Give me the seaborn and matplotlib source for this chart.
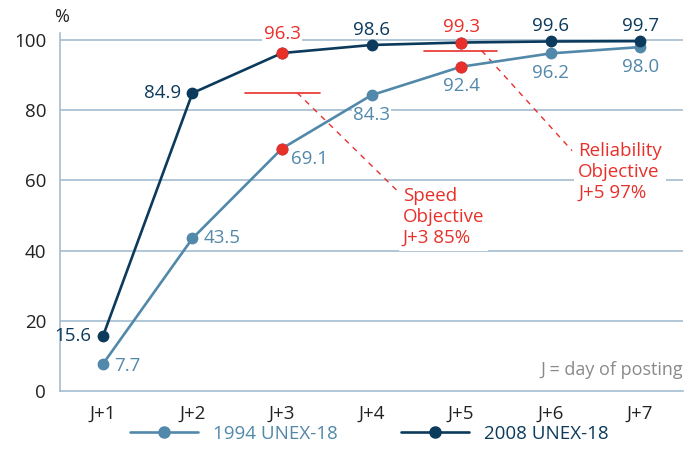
import pandas as pd
import seaborn as sns
import matplotlib.pyplot as plt
from matplotlib.lines import Line2D

# data
days = ["J+1", "J+2", "J+3", "J+4", "J+5", "J+6", "J+7"]
pct_1994 = [7.7, 43.5, 69.1, 84.3, 92.4, 96.2, 98.0]
pct_2008 = [15.6, 84.9, 96.3, 98.6, 99.3, 99.6, 99.7]
objective_days = ["J+3", "J+5"]
objective_targets = [85, 97]
objective_labels = ["Speed\nObjective\nJ+3 85%", "Reliability\nObjective\nJ+5 97%"]

c94 = "#5288aa"
c08 = "#0b3a5c"
red = "#e8302a"
grid_c = "#a3bccf"
text_c = "#222222"

df = pd.DataFrame({
    "day": days * 2,
    "pos": list(range(len(days))) * 2,
    "pct": pct_1994 + pct_2008,
    "series": ["1994 UNEX-18"] * len(days) + ["2008 UNEX-18"] * len(days),
})

sns.set_style("white")
plt.rcParams["font.family"] = ["Open Sans", "DejaVu Sans"]

fig = plt.figure(figsize=(6.97, 4.59), dpi=100)
ax = fig.add_axes([0.086, 0.148, 0.894, 0.78])

for y in [20, 40, 60, 80, 100]:
    ax.axhline(y, color=grid_c, lw=1.2, zorder=0)

sns.lineplot(data=df, x="pos", y="pct", hue="series",
             palette={"1994 UNEX-18": c94, "2008 UNEX-18": c08},
             marker="o", markersize=8.5, markeredgewidth=0, linewidth=1.9,
             legend=False, ax=ax, zorder=3)

# red points on objective days
for d in objective_days:
    i = days.index(d)
    ax.scatter([i, i], [pct_1994[i], pct_2008[i]], s=75, color=red, zorder=5, linewidths=0)

# data labels
fs = 13.5
bb = dict(facecolor="white", edgecolor="none", pad=1)
for i, (a, b) in enumerate(zip(pct_1994, pct_2008)):
    cb = red if days[i] in objective_days else c08
    if i == 0:
        ax.text(i - 0.13, b, f"{b:.1f}", color=c08, fontsize=fs, ha="right", va="center")
        ax.text(i + 0.12, a - 0.5, f"{a:.1f}", color=c94, fontsize=fs, ha="left", va="center")
    elif i == 1:
        ax.text(i - 0.13, b, f"{b:.1f}", color=c08, fontsize=fs, ha="right", va="center")
        ax.text(i + 0.12, a, f"{a:.1f}", color=c94, fontsize=fs, ha="left", va="center")
    elif i == 2:
        ax.text(i, b + 3.0, f"{b:.1f}", color=cb, fontsize=fs, ha="center", va="bottom", bbox=bb, zorder=4)
        ax.text(i + 0.1, a - 0.5, f"{a:.1f}", color=c94, fontsize=fs, ha="left", va="top")
    else:
        ax.text(i, b + 1.8, f"{b:.1f}", color=cb, fontsize=fs, ha="center", va="bottom", zorder=4)
        ax.text(i, a - 3.0, f"{a:.1f}", color=c94, fontsize=fs, ha="center", va="top", bbox=bb, zorder=2)

# objective markers and callouts
spans = [(1.59, 2.42), (3.59, 4.40)]
leaders = [((2.17, 85), (3.31, 56.5)), ((4.23, 97), (5.24, 68.5))]
text_at = [(3.35, 58.0), (5.31, 71.0)]
for (x0, x1), t, ((lx0, ly0), (lx1, ly1)), (tx, ty), lab in zip(spans, objective_targets, leaders, text_at, objective_labels):
    ax.plot([x0, x1], [t, t], color=red, lw=1.2, zorder=2)
    ax.plot([lx0, lx1], [ly0, ly1], color=red, lw=1, ls=(0, (4, 4)), zorder=2)
    ax.text(tx, ty, lab, color=red, fontsize=fs, ha="left", va="top",
            linespacing=1.2, bbox=dict(facecolor="white", edgecolor="none", pad=3), zorder=3)

ax.text(6.48, 6.0, "J = day of posting", color="#8a8a8a", fontsize=13, ha="right", va="center")

ax.set_xlim(-0.48, 6.48)
ax.set_ylim(0, 102)
ax.set_xticks(range(len(days)))
ax.set_xticklabels(days)
ax.set_yticks([0, 20, 40, 60, 80, 100])
ax.set_xlabel("")
ax.set_ylabel("")
ax.text(-0.46, 104, "%", fontsize=13, color=text_c, ha="center", va="bottom")

for s in ["top", "right"]:
    ax.spines[s].set_visible(False)
for s in ["left", "bottom"]:
    ax.spines[s].set_color(grid_c)
    ax.spines[s].set_linewidth(1.2)
ax.tick_params(axis="both", colors=grid_c, labelcolor=text_c, labelsize=13.5, width=1.2, length=6)
ax.tick_params(axis="x", direction="inout", length=10, pad=5)
ax.tick_params(axis="y", pad=4)

handles = [
    Line2D([], [], color=c94, marker="o", markersize=8, lw=1.9),
    Line2D([], [], color=c08, marker="o", markersize=8, lw=1.9),
]
leg = fig.legend(handles, ["1994 UNEX-18", "2008 UNEX-18"], loc="center",
                 bbox_to_anchor=(0.53, 0.055), ncol=2, frameon=False,
                 fontsize=13.5, handlelength=3.6, columnspacing=3.4, handletextpad=0.8)
for t, c in zip(leg.get_texts(), [c94, c08]):
    t.set_color(c)

fig.savefig("out.png", dpi=100)
